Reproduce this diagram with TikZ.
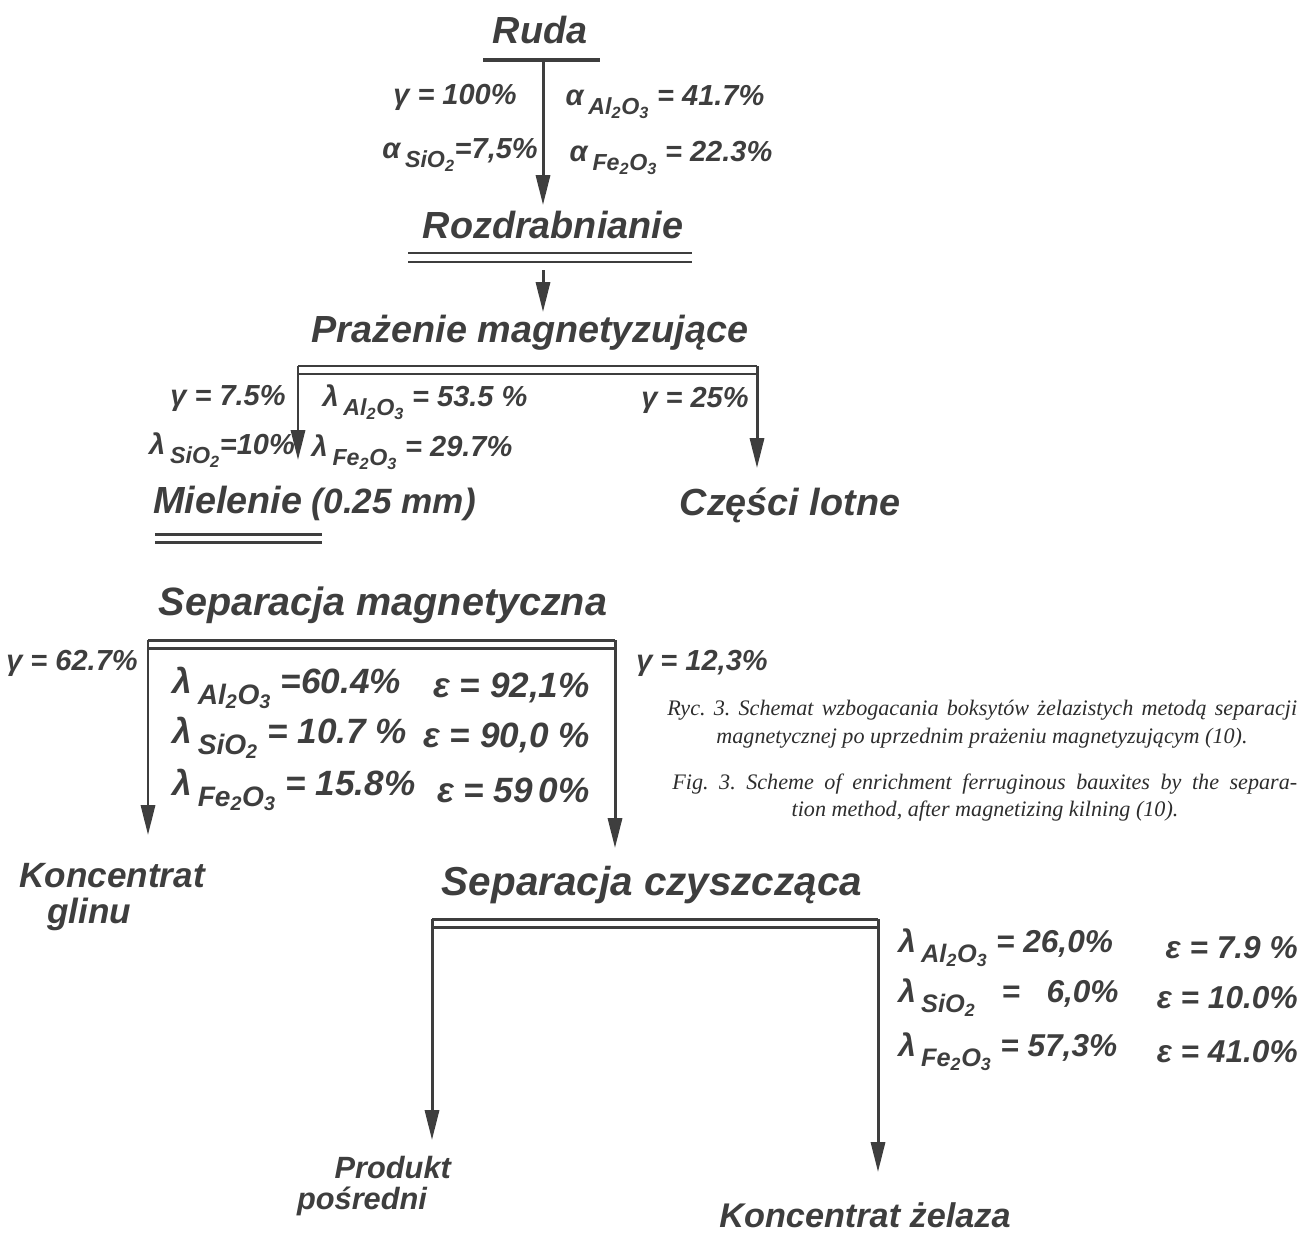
\documentclass[tikz,border=0pt]{standalone}
\usepackage{fontspec}
\usepackage{graphicx}
\setmainfont{Liberation Sans}
\newfontfamily\capserif{Liberation Serif}
\usetikzlibrary{arrows.meta}
\definecolor{ink}{RGB}{62,62,62}
\definecolor{capink}{RGB}{45,45,45}
\newcommand\hw[2]{\fontsize{#1}{#2}\selectfont\bfseries\itshape}
\newcommand\ttlfont{\hw{21.5}{24}}
\newcommand\lblfont{\fontsize{16.5}{20}\selectfont\bfseries\itshape}
\newcommand\lblbig{\fontsize{20}{23}\selectfont\bfseries\itshape}
\newcommand\lblright{\fontsize{18}{21}\selectfont\bfseries\itshape}
\newcommand\capfont{\capserif\fontsize{12.6}{15}\selectfont\itshape\frenchspacing}
\newcommand\lowf[1]{\raisebox{-0.6ex}{\scalebox{0.8}{#1}}}
\newcommand\AlO{Al\textsubscript{2}O\textsubscript{3}}
\newcommand\SiO{SiO\textsubscript{2}}
\newcommand\FeO{Fe\textsubscript{2}O\textsubscript{3}}
\tikzset{
  ttl/.style={font=\ttlfont, text=ink, inner sep=0pt},
  lbl/.style={font=\lblfont, text=ink, inner sep=0pt},
  lblb/.style={font=\lblbig, text=ink, inner sep=0pt},
  lblr/.style={font=\lblright, text=ink, inner sep=0pt},
  captext/.style={font=\capfont, text=capink, inner sep=0pt},
  bar/.style={draw=ink, line width=1.7pt},
  thickbar/.style={draw=ink, line width=2.8pt},
  arr/.style={draw=ink, line width=1.7pt, -{Triangle[length=17pt,width=8pt]}},
}
\begin{document}
\begin{tikzpicture}[x=0.02cm, y=-0.02cm]
\useasboundingbox (0,0) rectangle (1304,1237);

% ---- titles
\node[ttl] (ruda) at (540,30) {Ruda};
\node[ttl] (rozd) at (553,225) {Rozdrabnianie};
\node[ttl] (praz) at (530,333) {Prażenie magnetyzujące};
\node[ttl, anchor=west] (miel) at (153,500) {Mielenie};
\node[ttl, anchor=base west, font=\hw{20}{24}] (mielr) at ([xshift=5pt]miel.base east) {(0.25 mm)};
\node[ttl] (czesci) at (790,505) {Części lotne};
\node[ttl, font=\hw{22.5}{26}] (sepm) at (383,605) {Separacja magnetyczna};
\node[ttl, align=center, font=\hw{20}{21}] (kglin) at (112,897) {Koncentrat\\\hspace*{-1.3em}glinu};
\node[ttl, font=\hw{23}{26}] (sepc) at (652,885) {Separacja czyszcząca};
\node[ttl, align=center, font=\hw{17.5}{18}] (prod) at (362,1186) {\hspace*{2.0em}Produkt\\pośredni};
\node[ttl, font=\hw{19.5}{22}] (kzel) at (865,1215) {Koncentrat żelaza};

% ---- coordinates
\coordinate (r0) at (543,60);
\coordinate (r1) at (543,205);
\coordinate (z0) at (543,270);
\coordinate (z1) at (543,312);
\coordinate (pL) at (298,366);
\coordinate (pR) at (757,366);
\coordinate (pLt) at (298,460);
\coordinate (pRt) at (757,468);
\coordinate (mL) at (148,640);
\coordinate (mR) at (615,640);
\coordinate (mLt) at (148,835);
\coordinate (mRt) at (615,848);
\coordinate (cL) at (432,919);
\coordinate (cR) at (878,919);
\coordinate (cLt) at (432,1140);
\coordinate (cRt) at (878,1172);

% ---- bars
\draw[thickbar] (483,60) -- (600,60);
\draw[bar] (408,253) -- (692,253);
\draw[bar] (408,262) -- (692,262);
\draw[bar] (pL) -- (pR);
\draw[bar] (298,374) -- (757,374);
\draw[bar] (155,534) -- (322,534);
\draw[bar] (155,542) -- (322,542);
\draw[bar] (mL) -- (mR);
\draw[bar] (148,648) -- (615,648);
\draw[bar] (cL) -- (cR);
\draw[bar] (432,927) -- (878,927);

% ---- arrows
\draw[arr] (r0) -- (r1);
\draw[arr] (z0) -- (z1);
\draw[arr] (pL) -- (pLt);
\draw[arr] (pR) -- (pRt);
\draw[arr] (mL) -- (mLt);
\draw[arr] (mR) -- (mRt);
\draw[arr] (cL) -- (cLt);
\draw[arr] (cR) -- (cRt);

% ---- labels, stage 1
\node[lbl] (g1) at (455,97) {γ = 100\%};
\node[lbl] (a1) at (665,102) {α\,\lowf{\AlO} = 41.7\%};
\node[lbl] (a2) at (460,155) {α\,\lowf{\SiO}=7,5\%};
\node[lbl] (a3) at (671,158) {α\,\lowf{\FeO} = 22.3\%};

% ---- labels, roasting
\node[lbl] (g2) at (228,398) {γ = 7.5\%};
\node[lbl] (l1) at (222,450) {λ\,\lowf{\SiO}=10\%};
\node[lbl] (l2) at (425,402) {λ\,\lowf{\AlO} = 53.5 \%};
\node[lbl] (l3) at (412,452) {λ\,\lowf{\FeO} = 29.7\%};
\node[lbl] (g3) at (695,400) {γ = 25\%};

% ---- labels, magnetic separation
\node[lbl] (g4) at (72,663) {γ = 62.7\%};
\node[lbl] (g5) at (702,663) {γ = 12,3\%};
\node[lblb, anchor=west] (m1) at (172,688) {λ\,\lowf{\AlO} =60.4\%};
\node[lblb, anchor=west] (m2) at (172,738) {λ\,\lowf{\SiO} = 10.7 \%};
\node[lblb, anchor=west] (m3) at (172,790) {λ\,\lowf{\FeO} = 15.8\%};
\node[lblb, anchor=east] (e1) at (590,688) {ε = 92,1\%};
\node[lblb, anchor=east] (e2) at (590,738) {ε = 90,0 \%};
\node[lblb, anchor=east] (e3) at (590,790) {ε = 59\,0\%};

% ---- labels, cleaning separation
\node[lblr, anchor=west] (c1) at (898,948) {λ\,\lowf{\AlO} = 26,0\%};
\node[lblr, anchor=west] (c2) at (898,998) {λ\,\lowf{\SiO} \ \ =\ \ \ 6,0\%};
\node[lblr, anchor=west] (c3) at (898,1052) {λ\,\lowf{\FeO} = 57,3\%};
\node[lblr, anchor=east] (f1) at (1298,948) {ε = 7.9 \%};
\node[lblr, anchor=east] (f2) at (1298,998) {ε = 10.0\%};
\node[lblr, anchor=east] (f3) at (1298,1052) {ε = 41.0\%};

% ---- caption
\node[captext, anchor=west] (cap1) at (667,710) {\makebox[12.6cm][s]{Ryc. 3. Schemat wzbogacania boksytów żelazistych metodą separacji}};
\node[captext] (cap2) at (982,738) {magnetycznej po uprzednim prażeniu magnetyzującym (10).};
\node[captext, anchor=west] (cap3) at (672,784) {\makebox[12.5cm][s]{Fig. 3. Scheme of enrichment ferruginous bauxites by the separa-}};
\node[captext] (cap4) at (985,811) {tion method, after magnetizing kilning (10).};
\end{tikzpicture}
\end{document}
